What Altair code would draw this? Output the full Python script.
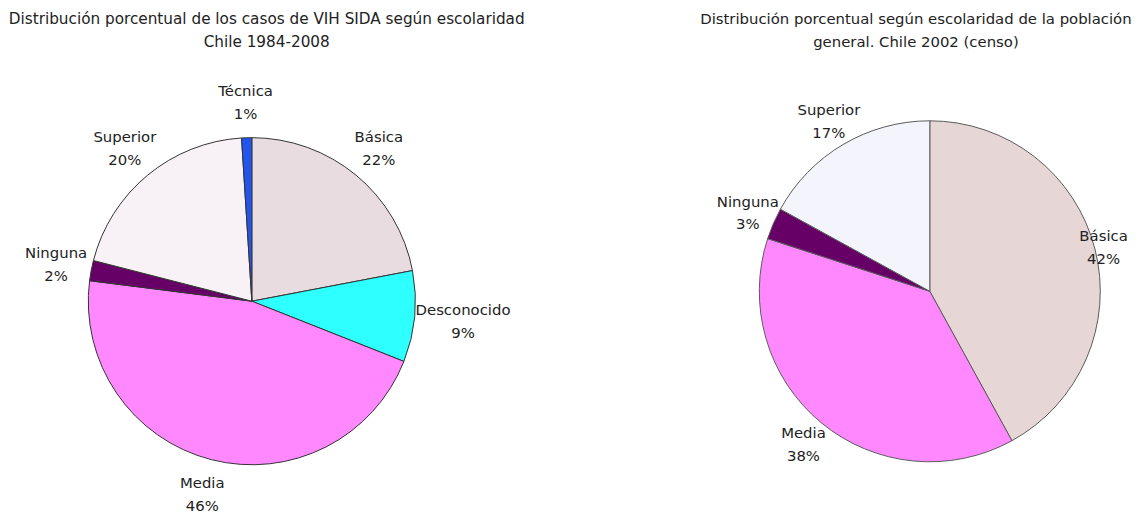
import altair as alt
import pandas as pd

# ---- data ----
cats_left = ["Básica", "Desconocido", "Media", "Ninguna", "Superior", "Técnica"]
vals_left = [22, 9, 46, 2, 20, 1]
colors_left = ["#E9DCE1", "#2EFFFF", "#FF88FF", "#660066", "#F8F2F6", "#2255EE"]

cats_right = ["Básica", "Media", "Ninguna", "Superior"]
vals_right = [42, 38, 3, 17]
colors_right = ["#E6D6D6", "#FF88FF", "#660066", "#F4F4FC"]

title_left = ["Distribución porcentual de los casos de VIH SIDA según escolaridad",
              "Chile 1984-2008"]
title_right = ["Distribución porcentual según escolaridad de la población",
               "general. Chile 2002 (censo)"]

FONT = "DejaVu Sans"


def make_df(cats, vals):
    return pd.DataFrame({
        "cat": cats,
        "val": vals,
        "idx": list(range(len(cats))),
        "label": [f"{c}\n{v}%" for c, v in zip(cats, vals)],
    })


def pie(cats, vals, colors, title, r, label_expr, w, h, stroke, tfs, tdx):
    df = make_df(cats, vals)
    base = alt.Chart(df).encode(
        theta=alt.Theta("val:Q", stack=True),
        order=alt.Order("idx:Q"),
    )
    arcs = base.mark_arc(outerRadius=r, stroke=stroke, strokeWidth=1).encode(
        color=alt.Color("cat:N", scale=alt.Scale(domain=cats, range=colors), legend=None)
    )
    labels = base.mark_text(
        lineBreak="\n", font=FONT, fontSize=15, lineHeight=23, dy=-11, color="#222222"
    ).encode(text="label:N", radius=alt.value({"expr": label_expr}))
    return alt.layer(arcs, labels).properties(
        width=w, height=h,
        title=alt.TitleParams(text=title, font=FONT, fontSize=tfs, fontWeight="normal",
                              lineHeight=23, color="#222222", anchor="middle",
                              frame="group", dx=tdx, offset=27),
    )


left = pie(cats_left, vals_left, colors_left, title_left, 165,
           "datum.cat == 'Desconocido' ? 214 : 201",
           488, 453, "#333333", 15.4, 15)
right = pie(cats_right, vals_right, colors_right, title_right, 172,
            "datum.cat == 'Básica' ? 181 : 200",
            400, 433, "#5a5a5a", 15, -14)

chart = alt.hconcat(left, right, spacing=240, bounds="flush").resolve_scale(
    color="independent", theta="independent"
).properties(
    padding={"left": 0, "top": 1, "right": 0, "bottom": 0}
).configure_view(stroke=None)

chart.save("out.html", embed_options={"renderer": "svg", "actions": False})
